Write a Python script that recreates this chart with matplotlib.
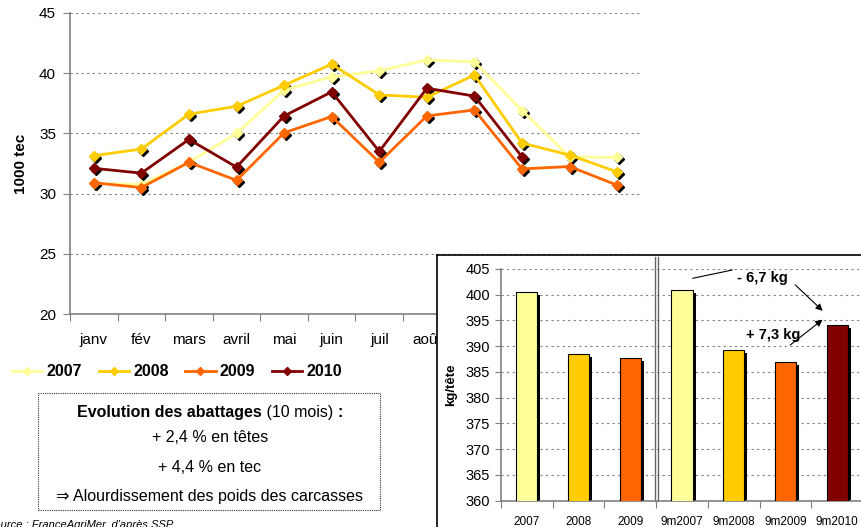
import matplotlib
matplotlib.use('Agg')
import matplotlib.pyplot as plt
from matplotlib.lines import Line2D
from matplotlib.patches import Rectangle
from matplotlib.transforms import offset_copy
import numpy as np

plt.rcParams['font.family'] = ['Liberation Sans', 'DejaVu Sans']

# données mensuelles (1000 tec)
mois = ['janv', 'fév', 'mars', 'avril', 'mai', 'juin', 'juil', 'août', 'sept', 'oct', 'nov', 'déc']
v2007 = [30.85, 30.75, 32.6, 35.0, 38.6, 39.7, 40.2, 41.1, 40.95, 36.9, 33.05, 33.0]
v2008 = [33.15, 33.7, 36.6, 37.25, 39.0, 40.75, 38.2, 38.0, 39.85, 34.2, 33.2, 31.8]
v2009 = [30.9, 30.5, 32.6, 31.1, 35.05, 36.4, 32.6, 36.45, 36.95, 32.05, 32.25, 30.7]
v2010 = [32.1, 31.7, 34.5, 32.2, 36.45, 38.45, 33.5, 38.75, 38.1, 33.05]
annees = ['2007', '2008', '2009', '2010']
couleurs = ['#FFFF99', '#FFCC00', '#FF6600', '#800000']

# poids moyen (kg/tête)
cat_poids = ['2007', '2008', '2009', '9m2007', '9m2008', '9m2009', '9m2010']
poids = [400.6, 388.4, 387.65, 400.9, 389.3, 386.9, 394.2]
couleurs_poids = ['#FFFF99', '#FFCC00', '#FF6600', '#FFFF99', '#FFCC00', '#FF6600', '#800000']

W, H = 862, 527
fig = plt.figure(figsize=(W / 100, H / 100), dpi=100)

grid_kw = dict(color='#808080', linestyle=(0, (2, 3)), linewidth=0.8)

# ---- courbes mensuelles
ax = fig.add_axes([70 / W, 1 - 314 / H, 571 / W, 301 / H])
shadow = offset_copy(ax.transData, fig=fig, x=2, y=-2, units='dots')
for vals, c in zip([v2007, v2008, v2009, v2010], couleurs):
    x = np.arange(len(vals))
    ax.plot(x, vals, 'D', color='black', markersize=5.5, transform=shadow, zorder=2)
    ax.plot(x, vals, '-D', color=c, lw=2, markersize=5.5, zorder=3)

ax.set_xlim(-0.5, 11.5)
ax.set_ylim(20, 45)
ax.set_yticks(range(20, 46, 5))
ax.set_xticks(np.arange(-0.5, 12, 1))
ax.set_xticklabels([])
ax.set_xticks(np.arange(12), minor=True)
ax.set_xticklabels(mois, minor=True)
ax.tick_params(axis='x', which='minor', length=0, pad=14, labelsize=11)
ax.tick_params(axis='x', which='major', length=5, color='#808080')
ax.tick_params(axis='y', length=5, color='#808080', pad=5, labelsize=11)
ax.yaxis.grid(True, **grid_kw)
ax.set_axisbelow(True)
for s in ['top', 'right']:
    ax.spines[s].set_visible(False)
for s in ['left', 'bottom']:
    ax.spines[s].set_color('#808080')
    ax.spines[s].set_linewidth(1.2)
ax.set_ylabel('1000 tec', fontweight='bold', fontsize=11, labelpad=8)

handles = [Line2D([], [], color=c, lw=2, marker='D', markersize=4) for c in couleurs]
fig.legend(handles, annees, loc='center', bbox_to_anchor=(177 / W, 1 - 372 / H), ncol=4,
           frameon=False, prop=dict(weight='bold', size=11.5), handlelength=1.9,
           handletextpad=0.25, columnspacing=1.05)

# ---- encadré texte
fig.patches.append(Rectangle((38 / W, 1 - 510 / H), 342 / W, 117 / H, transform=fig.transFigure,
                             fill=False, linestyle=(0, (1, 1)), linewidth=0.8, edgecolor='#333333'))
t1 = fig.text(77 / W, 1 - 417 / H, 'Evolution des abattages', fontsize=11.5, fontweight='bold')
t2 = ax.annotate(' (10 mois) ', xy=(1, 0), xycoords=t1, va='bottom', ha='left', fontsize=11.5,
                 annotation_clip=False)
ax.annotate(':', xy=(1, 0), xycoords=t2, va='bottom', ha='left', fontsize=11.5,
            fontweight='bold', annotation_clip=False)
fig.text(210 / W, 1 - 438 / H, '+ 2,4 % en têtes', fontsize=11.5, ha='center', va='center')
fig.text(210 / W, 1 - 467 / H, '+ 4,4 % en tec', fontsize=11.5, ha='center', va='center')
fig.text(210 / W, 1 - 496 / H, '⇒ Alourdissement des poids des carcasses', fontsize=11.5,
         ha='center', va='center')
fig.text(-13.5 / W, 1 - 528 / H, "Source : FranceAgriMer, d'après SSP", fontsize=8,
         style='italic', va='baseline')

# ---- encart poids
frame = fig.add_axes([437 / W, -0.1, 0.6, (H - 255) / H + 0.1])
frame.set_xticks([])
frame.set_yticks([])
for s in frame.spines.values():
    s.set_color('black')
    s.set_linewidth(1.2)

bx = fig.add_axes([501 / W, 1 - 500.7 / H, 362 / W, 231.7 / H])
bx.patch.set_alpha(0)
xb = np.arange(len(poids))
bshadow = offset_copy(bx.transData, fig=fig, x=3, y=-3, units='dots')
bx.bar(xb, poids, width=0.41, color='black', transform=bshadow, zorder=2)
bx.bar(xb, poids, width=0.41, color=couleurs_poids, edgecolor='black', linewidth=0.8, zorder=3)
bx.set_xlim(-0.5, 6.5)
bx.set_ylim(360, 405)
bx.set_yticks(range(360, 406, 5))
bx.set_xticks(np.arange(-0.5, 7, 1))
bx.set_xticklabels([])
bx.set_xticks(xb, minor=True)
bx.set_xticklabels(cat_poids, minor=True)
bx.tick_params(axis='x', which='minor', length=0, pad=11, labelsize=8.5)
bx.tick_params(axis='x', which='major', length=5, color='#808080')
bx.tick_params(axis='y', length=4, color='#808080', pad=4, labelsize=10.5)
bx.yaxis.grid(True, **grid_kw)
bx.set_axisbelow(True)
for s in ['top', 'right']:
    bx.spines[s].set_visible(False)
for s in ['left', 'bottom']:
    bx.spines[s].set_color('#808080')
    bx.spines[s].set_linewidth(1.2)
bx.set_ylabel('kg/tête', fontweight='bold', fontsize=9.5, labelpad=6)

for dx in (-0.03, 0.03):
    bx.axvline(2.5 + dx, ymin=0, ymax=1.05, color='#666666', lw=1, clip_on=False)

bx.plot([3.21, 3.97], [403.2, 404.8], color='black', lw=0.8, clip_on=False)
bx.text(4.56, 403.2, '- 6,7 kg', fontweight='bold', fontsize=10.5, ha='center', va='center')
bx.annotate('', xy=(5.76, 396.5), xytext=(5.15, 402.3),
            arrowprops=dict(arrowstyle='-|>', color='black', lw=0.8, mutation_scale=10))
bx.text(4.76, 392.1, '+ 7,3 kg', fontweight='bold', fontsize=10.5, ha='center', va='center')
bx.annotate('', xy=(5.76, 395.5), xytext=(5.05, 389.9),
            arrowprops=dict(arrowstyle='-|>', color='black', lw=0.8, mutation_scale=10))

fig.savefig('out.png', dpi=100)
